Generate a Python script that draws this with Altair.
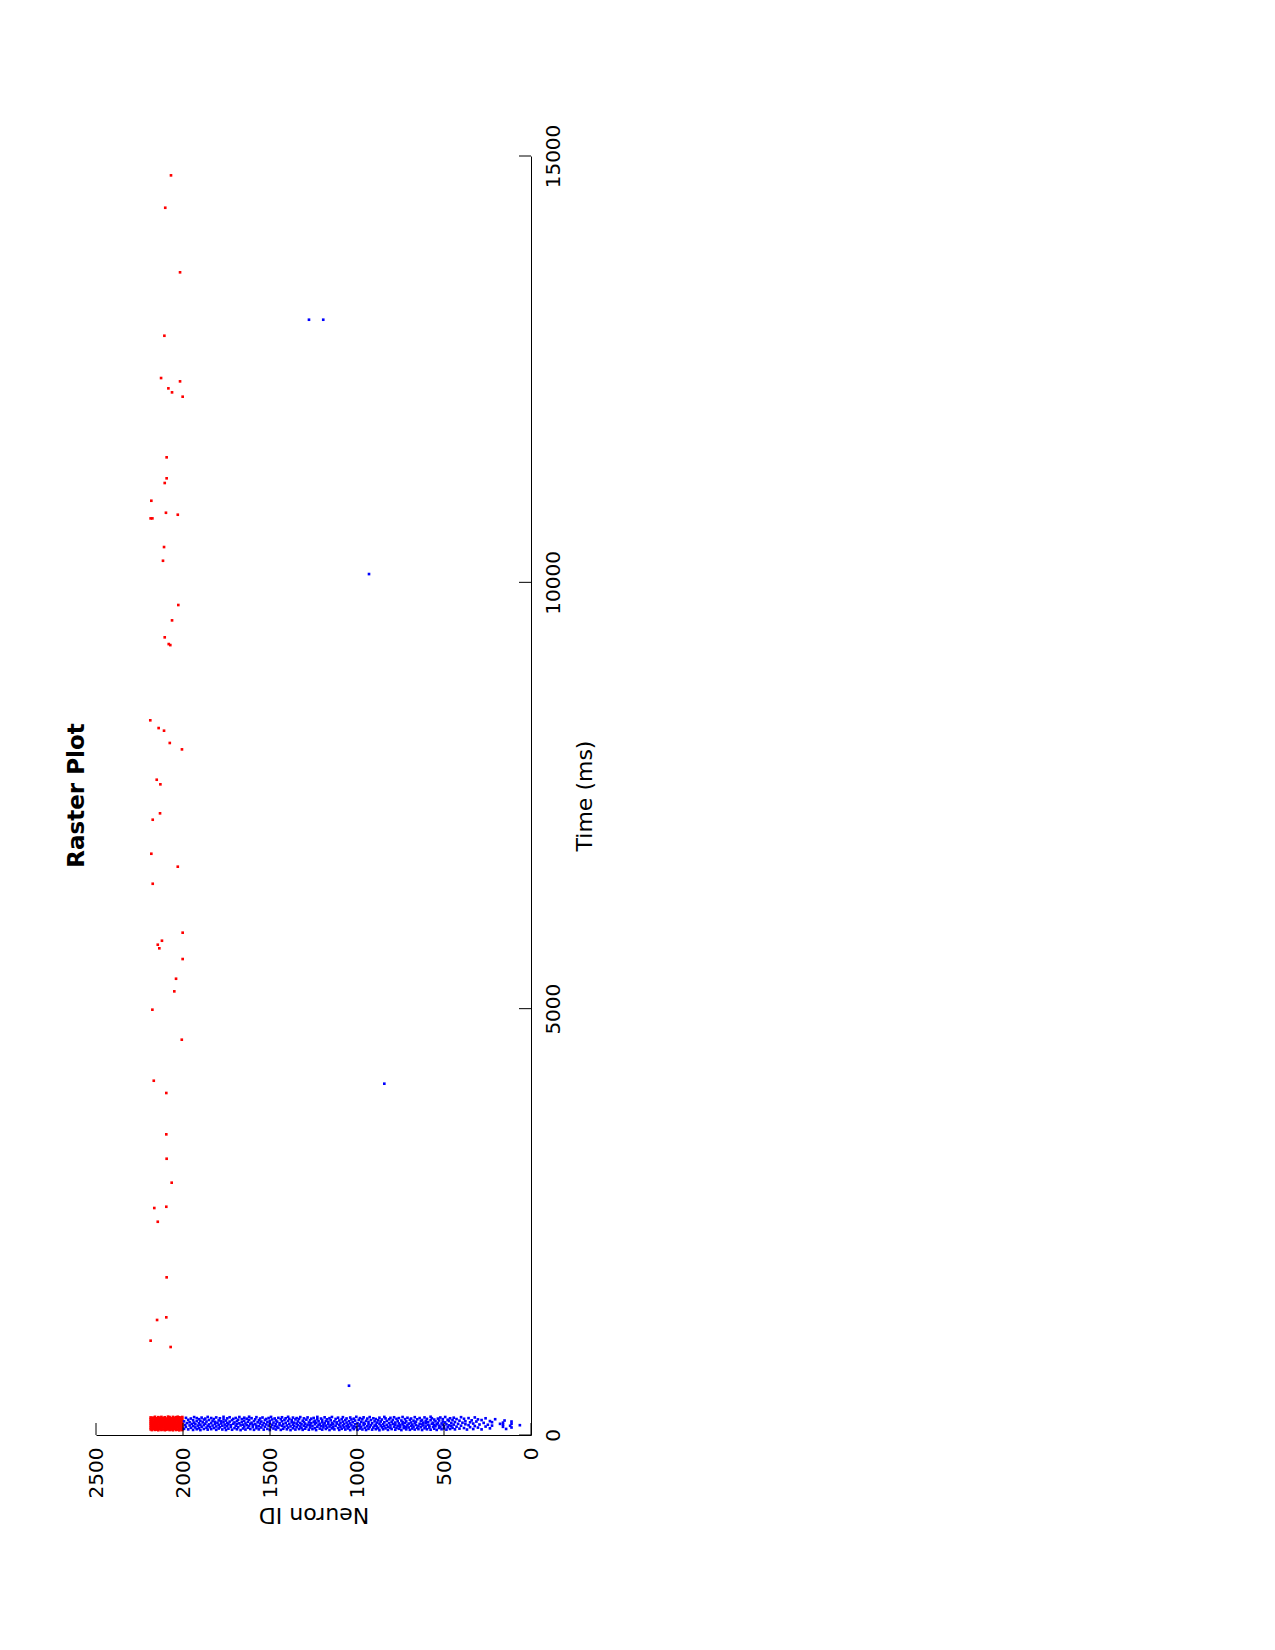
import altair as alt
import pandas as pd

# ---- data ----
# dense transient at simulation start: inhibitory population (red)
red_burst = {
    2004: [58, 79, 101, 126, 147, 166, 190, 211],
    2012: [66, 90, 112, 135, 158, 181, 203],
    2021: [55, 74, 98, 119, 142, 163, 184, 207],
    2030: [63, 87, 108, 131, 152, 175, 196, 214],
    2040: [59, 81, 104, 124, 146, 169, 188, 209],
    2049: [70, 93, 115, 138, 160, 179, 201],
    2058: [56, 77, 99, 121, 144, 166, 192, 212],
    2068: [64, 85, 107, 130, 151, 173, 195],
    2077: [58, 80, 102, 125, 148, 170, 186, 210],
    2086: [67, 89, 111, 133, 156, 177, 199, 215],
    2096: [61, 83, 105, 127, 149, 172, 193],
    2105: [57, 76, 97, 120, 141, 164, 187, 208],
    2114: [65, 88, 110, 132, 154, 176, 198],
    2124: [59, 82, 103, 126, 147, 168, 190, 212],
    2133: [68, 91, 113, 135, 157, 180, 202],
    2142: [56, 78, 100, 122, 145, 166, 188, 209],
    2152: [63, 86, 109, 129, 151, 174, 196],
    2161: [60, 81, 104, 127, 148, 170, 192, 213],
    2171: [69, 92, 114, 137, 159, 182, 204],
    2179: [58, 84, 106, 125, 150, 171, 193],
    2186: [66, 90, 117, 139, 162, 185, 206],
}

# dense transient: excitatory population (blue)
blue_burst = {
    1994: [72, 160], 1988: [118], 1983: [95, 201], 1977: [140], 1970: [66, 178],
    1962: [112, 150], 1955: [84, 193], 1949: [131], 1942: [60, 104, 172], 1936: [145, 210],
    1929: [89, 126], 1921: [68, 163, 198], 1914: [110], 1908: [79, 138, 185], 1900: [58, 120, 167],
    1893: [96, 204], 1887: [148], 1880: [71, 115, 181], 1872: [133, 192], 1865: [86, 158],
    1858: [63, 107, 212], 1851: [124, 176], 1845: [93], 1838: [69, 141, 199], 1830: [111, 165],
    1823: [82, 187], 1816: [129, 154], 1809: [61, 100, 206], 1802: [143], 1795: [76, 118, 171],
    1788: [92, 196], 1781: [135, 160], 1774: [65, 108], 1767: [150, 183, 213], 1760: [87, 122],
    1753: [59, 169], 1746: [103, 140, 195], 1739: [74, 128], 1732: [157, 208], 1725: [95, 116],
    1718: [62, 174], 1711: [132, 189], 1704: [81, 147], 1697: [109, 200], 1690: [67, 126, 162],
    1683: [90, 179], 1676: [138, 211], 1669: [58, 113], 1662: [152, 186], 1655: [77, 121],
    1648: [99, 168, 203], 1641: [64, 136], 1634: [117, 191], 1627: [85, 155], 1620: [106, 178, 214],
    1613: [70, 131], 1606: [144, 197], 1599: [93, 119], 1592: [61, 163], 1585: [127, 184],
    1578: [80, 108, 209], 1571: [149], 1564: [66, 102, 172], 1557: [134, 193], 1550: [88, 158],
    1543: [115, 205], 1536: [63, 141], 1529: [97, 176], 1522: [124, 188], 1515: [72, 153],
    1508: [110, 199], 1501: [59, 137, 166], 1494: [91, 212], 1487: [120, 182], 1480: [76, 146],
    1473: [104, 194], 1466: [65, 130, 171], 1459: [98, 157], 1452: [84, 201], 1445: [117, 139],
    1438: [60, 185], 1431: [108, 160, 208], 1424: [73, 128], 1417: [95, 177], 1410: [143, 196],
    1403: [67, 112], 1396: [87, 165, 213], 1389: [131, 189], 1382: [58, 101], 1375: [150, 174],
    1368: [79, 122, 204], 1361: [106, 145], 1354: [64, 183], 1347: [92, 134, 198], 1340: [116, 159],
    1333: [70, 187], 1326: [100, 141, 210], 1319: [83, 125], 1312: [61, 168], 1305: [109, 152, 195],
    1298: [74, 133], 1291: [96, 180], 1284: [119, 206], 1277: [62, 147], 1270: [88, 114, 172],
    1263: [137, 191], 1256: [69, 103], 1249: [155, 200], 1242: [81, 126, 167], 1235: [58, 143],
    1228: [97, 185, 212], 1221: [118, 161], 1214: [75, 132], 1207: [104, 193], 1200: [63, 149, 176],
    1193: [90, 121], 1186: [139, 207], 1179: [71, 110, 165], 1172: [86, 184], 1165: [128, 153],
    1158: [59, 99, 197], 1151: [115, 173], 1144: [78, 142, 211], 1137: [93, 125], 1130: [66, 160],
    1123: [107, 188], 1116: [134, 148], 1109: [82, 203], 1102: [60, 118, 170], 1095: [98, 140],
    1088: [73, 186], 1081: [112, 157, 209], 1074: [89, 129], 1067: [64, 175], 1060: [103, 146, 194],
    1053: [77, 121], 1046: [95, 163], 1039: [58, 136, 205], 1032: [113, 182], 1025: [84, 150],
    1018: [69, 101, 191], 1011: [127, 169], 1004: [91, 213], 997: [61, 139], 990: [108, 178],
    983: [76, 124, 198], 976: [96, 155], 969: [65, 184], 962: [117, 143, 207], 955: [85, 131],
    948: [59, 166], 941: [102, 192], 934: [72, 126, 154], 927: [94, 210], 920: [115, 175],
    913: [63, 138], 906: [87, 196], 899: [109, 160], 892: [68, 122, 187], 885: [99, 146],
    878: [80, 172], 871: [57, 133, 203], 864: [111, 158], 857: [90, 181], 850: [67, 127],
    843: [104, 149, 212], 836: [78, 194], 829: [119, 165], 822: [60, 96], 815: [140, 184],
    808: [86, 113, 201], 801: [70, 155], 794: [130, 176], 787: [97, 208], 780: [62, 121, 146],
    773: [84, 189], 766: [107, 162], 759: [73, 136, 198], 752: [93, 117], 745: [58, 170],
    738: [126, 151, 211], 731: [81, 104], 724: [141, 186], 717: [66, 96, 160], 710: [115, 202],
    703: [88, 134], 696: [61, 178], 689: [108, 147, 193], 682: [76, 122], 675: [98, 168],
    668: [64, 139, 209], 661: [118, 156], 654: [85, 184], 647: [69, 105], 640: [131, 199],
    633: [92, 163], 626: [59, 124, 176], 619: [112, 145], 612: [79, 206], 605: [100, 137, 166],
    598: [67, 189], 591: [120, 152], 584: [87, 109], 577: [62, 173, 214], 570: [133, 197],
    563: [95, 144], 556: [74, 116, 181], 549: [103, 161], 542: [60, 127], 535: [142, 192],
    528: [83, 110, 170], 521: [97, 205], 514: [68, 135], 507: [119, 158, 186], 500: [78, 101],
    493: [148, 211], 486: [63, 125], 479: [91, 179], 472: [113, 164], 465: [71, 196],
    458: [106, 140], 451: [84, 174], 444: [122, 203], 437: [66, 152], 428: [98, 187],
    419: [131], 411: [75, 168], 402: [109, 209], 394: [144], 385: [82, 190],
    377: [126, 161], 368: [64], 359: [115, 198], 350: [92, 149], 341: [172],
    332: [70, 134], 323: [105, 206], 314: [158], 305: [87, 183], 296: [123],
    284: [66, 175], 272: [142], 261: [99, 196], 248: [120], 236: [78, 163],
    224: [110, 150], 206: [185], 178: [131], 161: [96, 120, 145], 152: [170],
    143: [71], 120: [108], 112: [88, 132, 158], 64: [115],
}

# sparse later spikes (inhibitory, red)
red_sparse_ids = [2069, 2102, 2017, 2107, 2126, 2017, 2084, 2063, 2002, 2094,
                  2094, 2105, 2182, 2098, 2030, 2186, 2176, 2109, 2115, 2027,
                  2063, 2105, 2082, 2073, 2188, 2140, 2109, 2076, 2006, 2151,
                  2130, 2132, 2174, 2182, 2030, 2174, 2002, 2121, 2145, 2136,
                  2002, 2040, 2050, 2176, 2007, 2168, 2096, 2096, 2094, 2065,
                  2165, 2096, 2145, 2094, 2149, 2096, 2186, 2071]
red_sparse_times = [14773, 14393, 13636, 12892, 12396, 12357, 12275, 12228, 12177, 11466,
                    11220, 11165, 10957, 10816, 10793, 10750, 10750, 10414, 10253, 9734,
                    9554, 9355, 9276, 9264, 8382, 8291, 8260, 8116, 8041, 7685,
                    7631, 7291, 7216, 6817, 6665, 6465, 5891, 5797, 5750, 5708,
                    5582, 5351, 5203, 4988, 4636, 4155, 4011, 3526, 3240, 2959,
                    2662, 2677, 2501, 1849, 1349, 1380, 1106, 1032]

# sparse later spikes (excitatory, blue)
blue_sparse_ids = [1276, 1194, 931, 843, 1046]
blue_sparse_times = [13080, 13080, 10097, 4120, 578]

neuron_ticks = [0, 500, 1000, 1500, 2000, 2500]
time_ticks = [0, 5000, 10000, 15000]

# ---- build table ----
rows = []
for nid, ts in red_burst.items():
    for t in ts:
        rows.append({"neuron": nid, "time": t, "pop": "inh"})
for nid, t in zip(red_sparse_ids, red_sparse_times):
    rows.append({"neuron": nid, "time": t, "pop": "inh"})
for nid, ts in blue_burst.items():
    for t in ts:
        rows.append({"neuron": nid, "time": t, "pop": "exc"})
for nid, t in zip(blue_sparse_ids, blue_sparse_times):
    rows.append({"neuron": nid, "time": t, "pop": "exc"})
df = pd.DataFrame(rows)

W, H = 435, 1279
FONT = "DejaVu Sans"

xscale = alt.Scale(domain=[0, 2500], reverse=True, nice=False, zero=False)
yscale = alt.Scale(domain=[0, 15000], nice=False, zero=False)

xaxis = alt.Axis(
    orient="bottom", values=neuron_ticks, format="d", grid=False, ticks=False,
    domainColor="black", domainWidth=1, labelAngle=270, labelAlign="right",
    labelBaseline="middle", labelPadding=12, labelFontSize=20, labelColor="black",
    labelFlush=False, labelOverlap=False, labelBound=False, labelFont=FONT,
    title="Neuron ID", titleAngle=180, titleFontSize=22, titleFont=FONT,
    titleFontWeight="normal", titleColor="black", titleAlign="center",
    titleBaseline="middle", titleX=W / 2, titleY=79,
)
yaxis = alt.Axis(
    orient="right", values=time_ticks, format="d", grid=False, ticks=False,
    domainColor="black", domainWidth=1, labelAngle=270, labelAlign="center",
    labelBaseline="top", labelPadding=12, labelFontSize=20, labelColor="black",
    labelFlush=False, labelOverlap=False, labelBound=False, labelFont=FONT,
    title="Time (ms)", titleAngle=270, titleFontSize=22, titleFont=FONT,
    titleFontWeight="normal", titleColor="black", titleAlign="center",
    titleBaseline="middle", titleX=53, titleY=H / 2,
)

points = alt.Chart(df).mark_square(size=7, opacity=1).encode(
    x=alt.X("neuron:Q", scale=xscale, axis=xaxis),
    y=alt.Y("time:Q", scale=yscale, axis=yaxis),
    color=alt.Color("pop:N", scale=alt.Scale(domain=["inh", "exc"],
                                             range=["#ff0000", "#0000ff"]), legend=None),
)

xticks = alt.Chart(pd.DataFrame({"neuron": neuron_ticks})).mark_rule(
    color="black", strokeWidth=1).encode(
    x=alt.X("neuron:Q", scale=xscale, axis=xaxis),
    y=alt.value(H), y2=alt.value(H - 12),
)
yticks = alt.Chart(pd.DataFrame({"time": time_ticks})).mark_rule(
    color="black", strokeWidth=1).encode(
    y=alt.Y("time:Q", scale=yscale, axis=yaxis),
    x=alt.value(W), x2=alt.value(W - 12),
)

chart = alt.layer(points, xticks, yticks).properties(
    width=W, height=H,
    title=alt.TitleParams("Raster Plot", orient="left", angle=270, offset=-3,
                          fontSize=23, font=FONT, fontWeight="bold", color="black",
                          anchor="middle"),
    autosize=alt.AutoSizeParams(type="none"),
    padding={"left": 96, "top": 156, "right": 744, "bottom": 215},
).configure(
    font=FONT, view=alt.ViewConfig(stroke=None)
)

chart.save("out.html", embed_options={"renderer": "svg", "actions": False})
